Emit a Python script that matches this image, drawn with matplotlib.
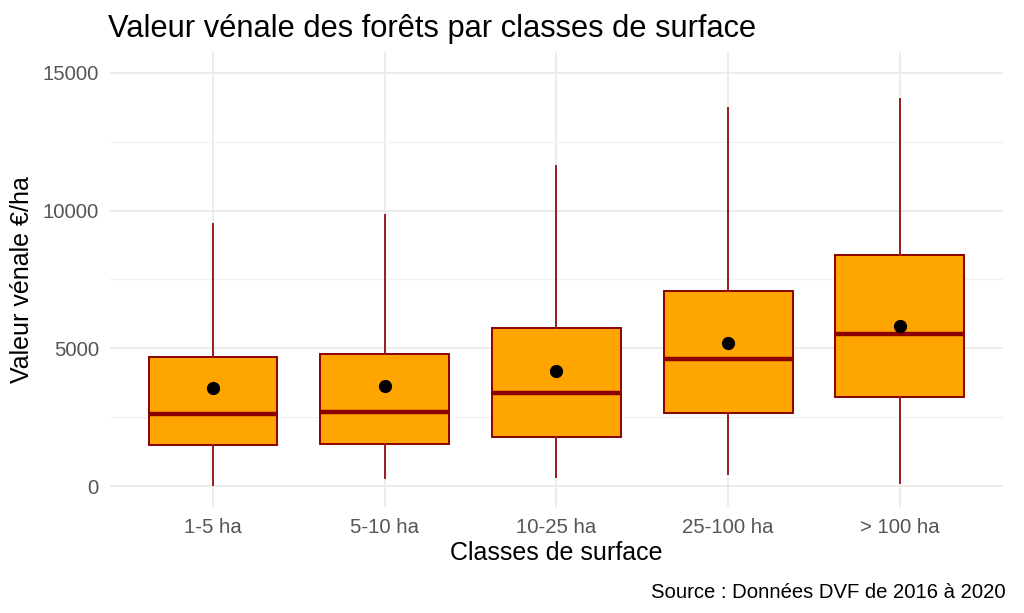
import numpy as np
import matplotlib.pyplot as plt
from matplotlib.ticker import MultipleLocator

#%% Données

classes = ['1-5 ha', '5-10 ha', '10-25 ha', '25-100 ha', '> 100 ha']
moustache_bas = [40, 300, 340, 425, 100]
q1 = [1480, 1540, 1790, 2660, 3220]
mediane = [2625, 2690, 3370, 4610, 5520]
q3 = [4700, 4800, 5750, 7090, 8400]
moustache_haut = [9510, 9840, 11620, 13710, 14040]
moyenne = [3570, 3640, 4190, 5180, 5810]

#%% Figure

plt.rcParams['font.family'] = ['Liberation Sans', 'DejaVu Sans']

fig = plt.figure(figsize=(10.24, 6.13), dpi=100)
ax = fig.add_axes([0.1074, 0.1734, 0.872, 0.7414])

stats = []
for i in range(len(classes)):
    stats.append({'whislo': moustache_bas[i], 'q1': q1[i], 'med': mediane[i],
                  'q3': q3[i], 'whishi': moustache_haut[i], 'mean': moyenne[i],
                  'fliers': []})

pos = np.arange(1, len(classes) + 1)
ax.bxp(stats, positions=pos, widths=0.75, patch_artist=True, showmeans=True,
       showcaps=False, showfliers=False,
       boxprops=dict(facecolor='#FFA500', edgecolor='#8B0000', linewidth=1.4),
       whiskerprops=dict(color='#9B1A1A', linewidth=1.4),
       medianprops=dict(color='#8B0000', linewidth=3.2, solid_capstyle='butt'),
       meanprops=dict(marker='o', markerfacecolor='black', markeredgecolor='black',
                      markersize=8.5))

ax.set_xlim(0.4, len(classes) + 0.6)
ax.set_ylim(-750, 15750)
ax.set_xticks(pos)
ax.set_xticklabels(classes)
ax.yaxis.set_major_locator(MultipleLocator(5000))
ax.yaxis.set_minor_locator(MultipleLocator(2500))

ax.grid(which='major', color='#EBEBEB', linewidth=1.3)
ax.grid(which='minor', axis='y', color='#F2F2F2', linewidth=0.9)
ax.set_axisbelow(True)
for s in ax.spines.values():
    s.set_visible(False)
ax.tick_params(which='both', length=0, labelsize=14.7, labelcolor='#555555')
ax.tick_params(axis='x', pad=8)
ax.tick_params(axis='y', pad=8)

ax.set_xlabel('Classes de surface', fontsize=18, labelpad=3)
ax.set_ylabel('Valeur vénale €/ha', fontsize=18, labelpad=6)
fig.text(0.105, 0.953, 'Valeur vénale des forêts par classes de surface',
         fontsize=22.2, va='center', ha='left')
fig.text(0.982, 0.034, 'Source : Données DVF de 2016 à 2020',
         fontsize=14.6, ha='right', va='center')

fig.savefig('out.png', dpi=100)
